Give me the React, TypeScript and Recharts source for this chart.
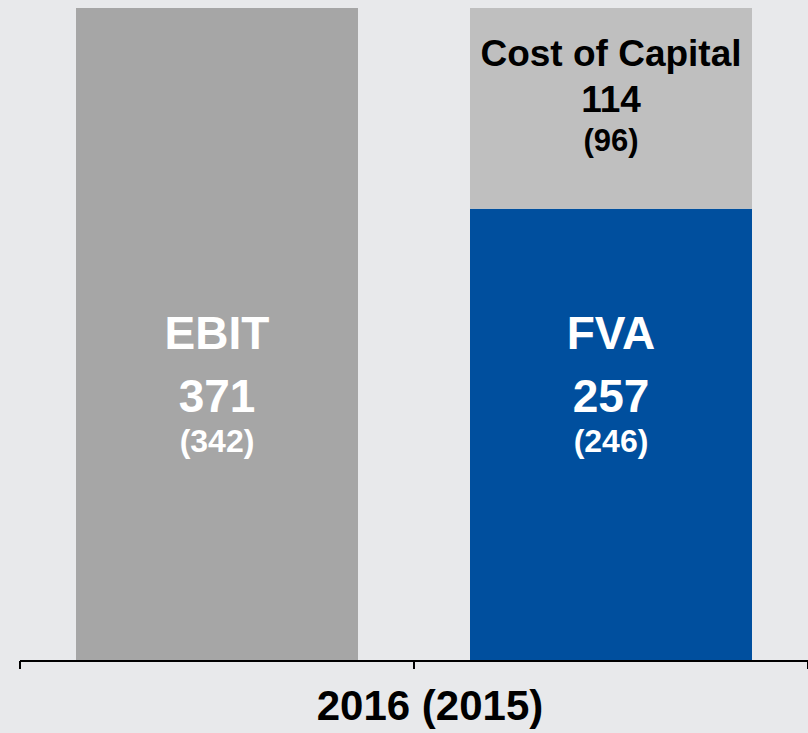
import React from 'react';
import { BarChart, Bar, XAxis, YAxis, LabelList } from 'recharts';

// values in EUR m, previous year in brackets
const categories = ['EBIT', 'FVA'];
const ebitValues = [371, 0];
const fvaValues = [0, 257];
const costOfCapitalValues = [0, 114];
const segmentNames = { ebit: 'EBIT', fva: 'FVA', coc: 'Cost of Capital' };
const current = { ebit: 371, fva: 257, coc: 114 };
const previous = { ebit: 342, fva: 246, coc: 96 };
const axisTitle = '2016 (2015)';

const data = categories.map((c, i) => ({
    name: c,
    ebit: ebitValues[i] || undefined,
    fva: fvaValues[i] || undefined,
    coc: costOfCapitalValues[i] || undefined,
}));

const font = '"Liberation Sans", Arial, sans-serif';

type Key = 'ebit' | 'fva' | 'coc';

// big white labels sitting at a fixed distance above the bar bottom
const bottomLabel = (key: Key) => (props: any) => {
    const { x, y, width, height, value } = props;
    if (!value) return null;
    const cx = x + width / 2;
    const bottom = y + height;
    return (
        <g fontFamily={font} fontWeight="bold" fill="#ffffff" textAnchor="middle">
            <text x={cx} y={bottom - 312} fontSize={46}>{segmentNames[key]}</text>
            <text x={cx} y={bottom - 249} fontSize={46}>{current[key]}</text>
            <text x={cx} y={bottom - 209} fontSize={32}>({previous[key]})</text>
        </g>
    );
};

// dark labels hanging from the top of the cost of capital block
const topLabel = (key: Key) => (props: any) => {
    const { x, y, width, value } = props;
    if (!value) return null;
    const cx = x + width / 2;
    return (
        <g fontFamily={font} fontWeight="bold" fill="#000000" textAnchor="middle">
            <text x={cx} y={y + 58} fontSize={37}>{segmentNames[key]}</text>
            <text x={cx} y={y + 104} fontSize={37}>{current[key]}</text>
            <text x={cx} y={y + 143} fontSize={31}>({previous[key]})</text>
        </g>
    );
};

// tick marks between the categories instead of under them
const BoundaryTick = (props: any) => {
    const { x, y, index, visibleTicksCount } = props;
    const half = 197;
    const top = y - 6;
    return (
        <g stroke="#000" strokeWidth={2}>
            <line x1={x - half} y1={top} x2={x - half} y2={top + 8} />
            {index === visibleTicksCount - 1 && (
                <line x1={x + half} y1={top} x2={x + half} y2={top + 8} />
            )}
        </g>
    );
};

const AxisTitle = (props: any) => {
    const { viewBox } = props;
    return (
        <text
            x={viewBox.x + viewBox.width / 2 + 16}
            y={viewBox.y + 59}
            textAnchor="middle"
            fontFamily={font}
            fontWeight="bold"
            fontSize={42}
            fill="#000"
        >
            {axisTitle}
        </text>
    );
};

const App = () => {
    return (
        <div style={{ position: 'absolute', top: 0, left: 0, width: 808, height: 733, background: '#e8e9eb' }}>
            <BarChart width={808} height={733} data={data} margin={{ top: 8, right: 0, left: 20, bottom: 42 }}>
                <XAxis
                    dataKey="name"
                    height={30}
                    axisLine={{ stroke: '#000', strokeWidth: 2 }}
                    tickLine={false}
                    tick={<BoundaryTick />}
                    tickMargin={0}
                    interval={0}
                    label={<AxisTitle />}
                />
                <YAxis hide domain={[0, 371]} />
                <Bar dataKey="ebit" stackId="a" fill="#a6a6a6" barSize={282} isAnimationActive={false}>
                    <LabelList dataKey="ebit" content={bottomLabel('ebit')} />
                </Bar>
                <Bar dataKey="fva" stackId="a" fill="#004f9e" barSize={282} isAnimationActive={false}>
                    <LabelList dataKey="fva" content={bottomLabel('fva')} />
                </Bar>
                <Bar dataKey="coc" stackId="a" fill="#bfbfbf" barSize={282} isAnimationActive={false}>
                    <LabelList dataKey="coc" content={topLabel('coc')} />
                </Bar>
            </BarChart>
        </div>
    );
};

export default App;
